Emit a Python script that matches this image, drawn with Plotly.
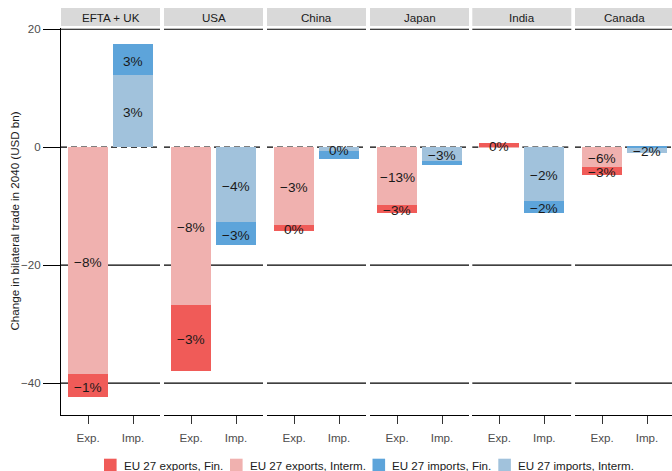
import plotly.graph_objects as go

# Partners (facets) and change in bilateral trade in 2040, USD bn
partners = ["EFTA + UK", "USA", "China", "Japan", "India", "Canada"]
exp_interm = [-38.5, -26.8, -13.2, -9.8, -0.05, -3.3]
exp_fin = [-3.8, -11.1, -1.0, -1.3, 0.7, -1.4]
imp_interm = [12.2, -12.7, -0.7, -2.4, -9.15, -0.95]
imp_fin = [5.3, -3.9, -1.35, -0.6, -1.95, 0.2]

# Percentage change labels (None = label not drawn)
exp_interm_pct = [-8, -8, -3, -13, None, -6]
exp_fin_pct = [-1, -3, 0, -3, 0, -3]
imp_interm_pct = [3, -4, 0, -3, -2, -2]
imp_fin_pct = [3, -3, None, None, -2, None]

flow_labels = ["Exp.", "Imp."]
y_ticks = [20, 0, -20, -40]

series_names = ["EU 27 exports, Fin.", "EU 27 exports, Interm.",
                "EU 27 imports, Fin.", "EU 27 imports, Interm."]
colors = {
    "EU 27 exports, Fin.": "#F05B58",
    "EU 27 exports, Interm.": "#F0B1AF",
    "EU 27 imports, Fin.": "#5DA4DA",
    "EU 27 imports, Interm.": "#A1C2DC",
}

FONT = "Liberation Sans, Arial, sans-serif"
W, H = 672, 471
ML, MR, MT, MB = 61, 0, 28, 56
PW, PH = W - ML - MR, H - MT - MB
Y_RANGE = [-45.4, 20.2]


def px_x(px):
    return (px - ML) / PW


def px_y(py):
    return 1 - (py - MT) / PH


def fmt_pct(v):
    return f"{v}%".replace("-", "\u2212")


panel_left = [61, 164, 267, 370, 472.3, 575]
panel_w = 99
px_per_unit = panel_w / 2.2

fig = go.Figure()
layout = dict(
    width=W, height=H,
    margin=dict(l=ML, r=MR, t=MT, b=MB),
    paper_bgcolor="white", plot_bgcolor="white",
    barmode="relative", bargap=0,
    showlegend=False,
    font=dict(family=FONT, size=11.6, color="#1A1A1A"),
)
shapes, annotations = [], []

for i, name in enumerate(partners):
    sfx = "" if i == 0 else str(i + 1)
    xa, ya = "x" + sfx, "y" + sfx
    left = panel_left[i]
    right = min(left + panel_w, W)
    x0 = -0.6
    x1 = x0 + (right - left) / px_per_unit
    layout["xaxis" + sfx] = dict(
        domain=[px_x(left), px_x(right)], anchor=ya, range=[x0, x1],
        tickvals=[0, 1], ticktext=flow_labels, ticks="outside", ticklen=8,
        tickcolor="#333333", tickwidth=1.1, showline=True, linecolor="black",
        linewidth=1.1, showgrid=False, zeroline=False, ticklabelstandoff=4,
        tickfont=dict(family=FONT, size=11.6, color="#4D4D4D"), fixedrange=True,
    )
    ya_cfg = dict(
        domain=[0, 1], anchor=xa, range=Y_RANGE, showgrid=False, zeroline=False,
        fixedrange=True,
    )
    if i == 0:
        ya_cfg.update(
            tickvals=y_ticks, ticks="outside", ticklen=17, tickcolor="black",
            tickwidth=1.1, showline=True, linecolor="black", linewidth=1.1,
            tickfont=dict(family=FONT, size=11.6, color="#4D4D4D"),
        )
    else:
        ya_cfg.update(showticklabels=False, showline=False, ticks="")
    layout["yaxis" + sfx] = ya_cfg

    # horizontal reference lines
    for yv in [20, -20, -40]:
        shapes.append(dict(type="line", xref=xa + " domain", yref=ya, x0=0, x1=1,
                           y0=yv, y1=yv, layer="below",
                           line=dict(color="black", width=1.1)))
    shapes.append(dict(type="line", xref=xa + " domain", yref=ya, x0=0, x1=1,
                       y0=0, y1=0, layer="below",
                       line=dict(color="black", width=1.1, dash="6px,4px")))

    # facet strip
    shapes.append(dict(type="rect", xref="paper", yref="paper",
                       x0=px_x(left), x1=px_x(right), y0=px_y(26), y1=px_y(8),
                       fillcolor="#D9D9D9", line=dict(width=0), layer="above"))
    annotations.append(dict(xref="paper", yref="paper",
                            x=px_x((left + left + panel_w) / 2), y=px_y(17),
                            text=name, showarrow=False, xanchor="center",
                            yanchor="middle",
                            font=dict(family=FONT, size=11.6, color="#1A1A1A")))

    # stacked bars: intermediate next to zero, final goods stacked beyond
    stacks = [
        (0, [("EU 27 exports, Interm.", exp_interm[i], exp_interm_pct[i]),
             ("EU 27 exports, Fin.", exp_fin[i], exp_fin_pct[i])]),
        (1, [("EU 27 imports, Interm.", imp_interm[i], imp_interm_pct[i]),
             ("EU 27 imports, Fin.", imp_fin[i], imp_fin_pct[i])]),
    ]
    for xpos, segs in stacks:
        pos_base, neg_base = 0.0, 0.0
        for sname, val, pct in segs:
            fig.add_trace(go.Bar(
                x=[xpos], y=[val], name=sname, xaxis=xa, yaxis=ya, width=0.9,
                marker=dict(color=colors[sname], line=dict(width=0)),
                showlegend=False, hoverinfo="skip",
            ))
            if val >= 0:
                mid = pos_base + val / 2
                pos_base += val
            else:
                mid = neg_base + val / 2
                neg_base += val
            if pct is not None:
                annotations.append(dict(
                    xref=xa, yref=ya, x=xpos, y=mid, text=fmt_pct(pct),
                    showarrow=False, xanchor="center", yanchor="middle",
                    yshift=-1.5,
                    font=dict(family=FONT, size=13.6, color="#1A1A1A")))

# y-axis title
annotations.append(dict(xref="paper", yref="paper", x=px_x(14), y=0.5,
                        text="Change in bilateral trade in 2040 (USD bn)",
                        textangle=-90, showarrow=False, xanchor="center",
                        yanchor="middle",
                        font=dict(family=FONT, size=11.6, color="#1A1A1A")))

# legend row
legend_x = [104, 230, 372.5, 498.3]
for lx, sname in zip(legend_x, series_names):
    shapes.append(dict(type="rect", xref="paper", yref="paper",
                       x0=px_x(lx), x1=px_x(lx + 12.6),
                       y0=px_y(471.5), y1=px_y(458.7),
                       fillcolor=colors[sname], line=dict(width=0)))
    annotations.append(dict(xref="paper", yref="paper", x=px_x(lx + 17.6),
                            y=px_y(465), text=sname, showarrow=False,
                            xanchor="left", yanchor="middle",
                            font=dict(family=FONT, size=11.6, color="#1A1A1A")))

layout["shapes"] = shapes
layout["annotations"] = annotations
fig.update_layout(**layout)
fig.write_html("out.html")
